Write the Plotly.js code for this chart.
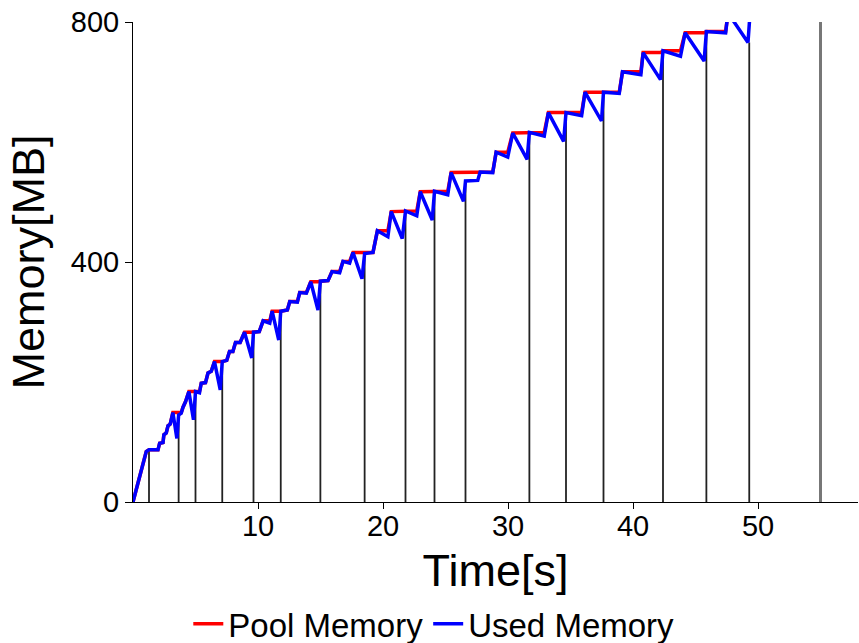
<!DOCTYPE html>
<html>
<head>
<meta charset="utf-8">
<script src="https://cdn.plot.ly/plotly-3.0.1.min.js"></script>
<style>html,body{margin:0;padding:0;background:#fff;}#chart{width:859px;height:643px;}</style>
</head>
<body>
<div id="chart"></div>
<script>
// Time stamps [s]
const timeS = [0, 1.06, 1.28, 2.0, 2.13, 2.4, 2.47, 2.66, 2.8, 2.98, 3.19, 3.51, 3.65, 3.86, 4.0, 4.2, 4.47, 4.84, 5.0, 5.32,
  5.46, 5.8, 6.0, 6.26, 6.52, 6.98, 7.14, 7.5, 7.72, 7.99, 8.2, 8.57, 8.92, 9.5, 9.64, 10.1, 10.41, 10.94, 11.13, 11.66,
  11.82, 12.35, 12.54, 13.15, 13.34, 13.87, 14.22, 14.8, 14.99, 15.6, 15.92, 16.53, 16.8, 17.33, 17.6, 18.32, 18.53, 19.2, 19.55, 19.75,
  20.39, 20.66, 21.54, 21.8, 22.7, 22.98, 23.94, 24.12, 25.18, 25.45, 26.44, 26.6, 27.58, 27.77, 28.78, 29.05, 29.71, 29.98, 30.38, 31.53,
  31.71, 32.9, 33.23, 34.45, 34.64, 35.89, 36.16, 37.48, 37.64, 38.9, 39.16, 40.63, 40.81, 42.2, 42.4, 43.8, 44.17, 45.69, 45.87, 47.41,
  47.6, 49.2, 49.45];
// Used memory [MB]
const usedMB = [0, 84, 87, 87, 98, 99, 112, 115, 127, 130, 149, 106, 145, 148, 158, 167, 184, 137, 184, 182,
  198, 199, 215, 218, 234, 187, 234, 236, 251, 251, 266, 266, 283, 240, 283, 284, 302, 298, 318, 270,
  318, 320, 334, 333, 349, 348, 367, 320, 368, 369, 384, 382, 401, 398, 416, 372, 414, 416, 452, 450,
  442, 484, 439, 485, 477, 517, 470, 518, 512, 549, 501, 535, 536, 550, 549, 583, 578, 575, 615, 571,
  616, 610, 649, 601, 649, 644, 683, 635, 683, 681, 717, 712, 749, 704, 752, 743, 782, 735, 784, 782,
  815, 766, 840];
// Pool memory [MB]
const poolMB = [0, 84, 87, 87, 98, 99, 112, 115, 127, 130, 149, 149, 149, 149, 158, 167, 184, 184, 184, 184,
  198, 199, 215, 218, 234, 234, 234, 236, 251, 251, 266, 266, 283, 283, 283, 284, 302, 302, 318, 318,
  318, 320, 334, 334, 349, 349, 367, 367, 368, 369, 384, 384, 401, 401, 416, 416, 416, 416, 452, 452,
  452, 484, 484, 485, 485, 517, 517, 518, 518, 549, 549, 549, 549, 550, 550, 583, 583, 583, 615, 615,
  616, 616, 649, 649, 649, 649, 683, 683, 683, 683, 717, 717, 749, 749, 752, 752, 782, 782, 784, 784,
  815, 815, 840];
// Collection events: time [s] and height of marker line [MB]
const gcTimeS = [1.28, 3.65, 5.0, 7.14, 9.64, 11.82, 14.99, 18.53, 21.8, 24.12, 26.6, 31.71, 34.64, 37.64, 42.4, 45.87, 49.3];
const gcTopMB = [87, 145, 184, 234, 283, 318, 368, 414, 485, 518, 535, 616, 649, 683, 752, 784, 766];
const lastEventS = [55.0];
const lastEventTopMB = [800];

const xTicks = [10, 20, 30, 40, 50];
const yTicks = [0, 400, 800];

function stems(xs, tops) {
  const x = [], y = [];
  xs.forEach((t, i) => { x.push(t, t, null); y.push(0, tops[i], null); });
  return {x, y};
}
const s1 = stems(gcTimeS, gcTopMB);
const s2 = stems(lastEventS, lastEventTopMB);

const FONT = 'Liberation Sans, Arial, sans-serif';
const traces = [
  {x: s1.x, y: s1.y, mode: 'lines', line: {color: '#222222', width: 1.8}, showlegend: false, hoverinfo: 'skip'},
  {x: s2.x, y: s2.y, mode: 'lines', line: {color: '#777777', width: 3}, showlegend: false, hoverinfo: 'skip'},
  {x: timeS, y: poolMB, mode: 'lines', name: 'Pool Memory', line: {color: '#ff0000', width: 3.5}},
  {x: timeS, y: usedMB, mode: 'lines', name: 'Used Memory', line: {color: '#0000ff', width: 3.5}}
];

const layout = {
  width: 859, height: 643,
  margin: {l: 133, r: 1, t: 22, b: 141},
  paper_bgcolor: '#fff', plot_bgcolor: '#fff',
  font: {family: FONT, color: '#000'},
  showlegend: true,
  legend: {orientation: 'h', xref: 'container', yref: 'container', x: 0.505, xanchor: 'center', y: 0.03, yanchor: 'middle',
           font: {family: FONT, size: 33, color: '#000'}, itemwidth: 30, tracegroupgap: 0, bgcolor: 'rgba(0,0,0,0)'},
  xaxis: {range: [0, 58], tickvals: xTicks, ticks: 'outside', ticklen: 6, tickcolor: '#000',
          showline: true, linecolor: '#000', linewidth: 1, showgrid: false, zeroline: false,
          ticklabelstandoff: -8,
          tickfont: {family: FONT, size: 29, color: '#000'},
          title: {text: 'Time[s]', font: {family: FONT, size: 45, color: '#000'}, standoff: 23}},
  yaxis: {range: [0, 800], tickvals: yTicks, ticks: 'outside', ticklen: 7, tickcolor: '#000',
          showline: true, linecolor: '#000', linewidth: 1, showgrid: false, zeroline: false,
          tickfont: {family: FONT, size: 29, color: '#000'},
          title: {text: 'Memory[MB]', font: {family: FONT, size: 45, color: '#000'}, standoff: 12}}
};

Plotly.newPlot('chart', traces, layout, {displayModeBar: false, staticPlot: true});
</script>
</body>
</html>
